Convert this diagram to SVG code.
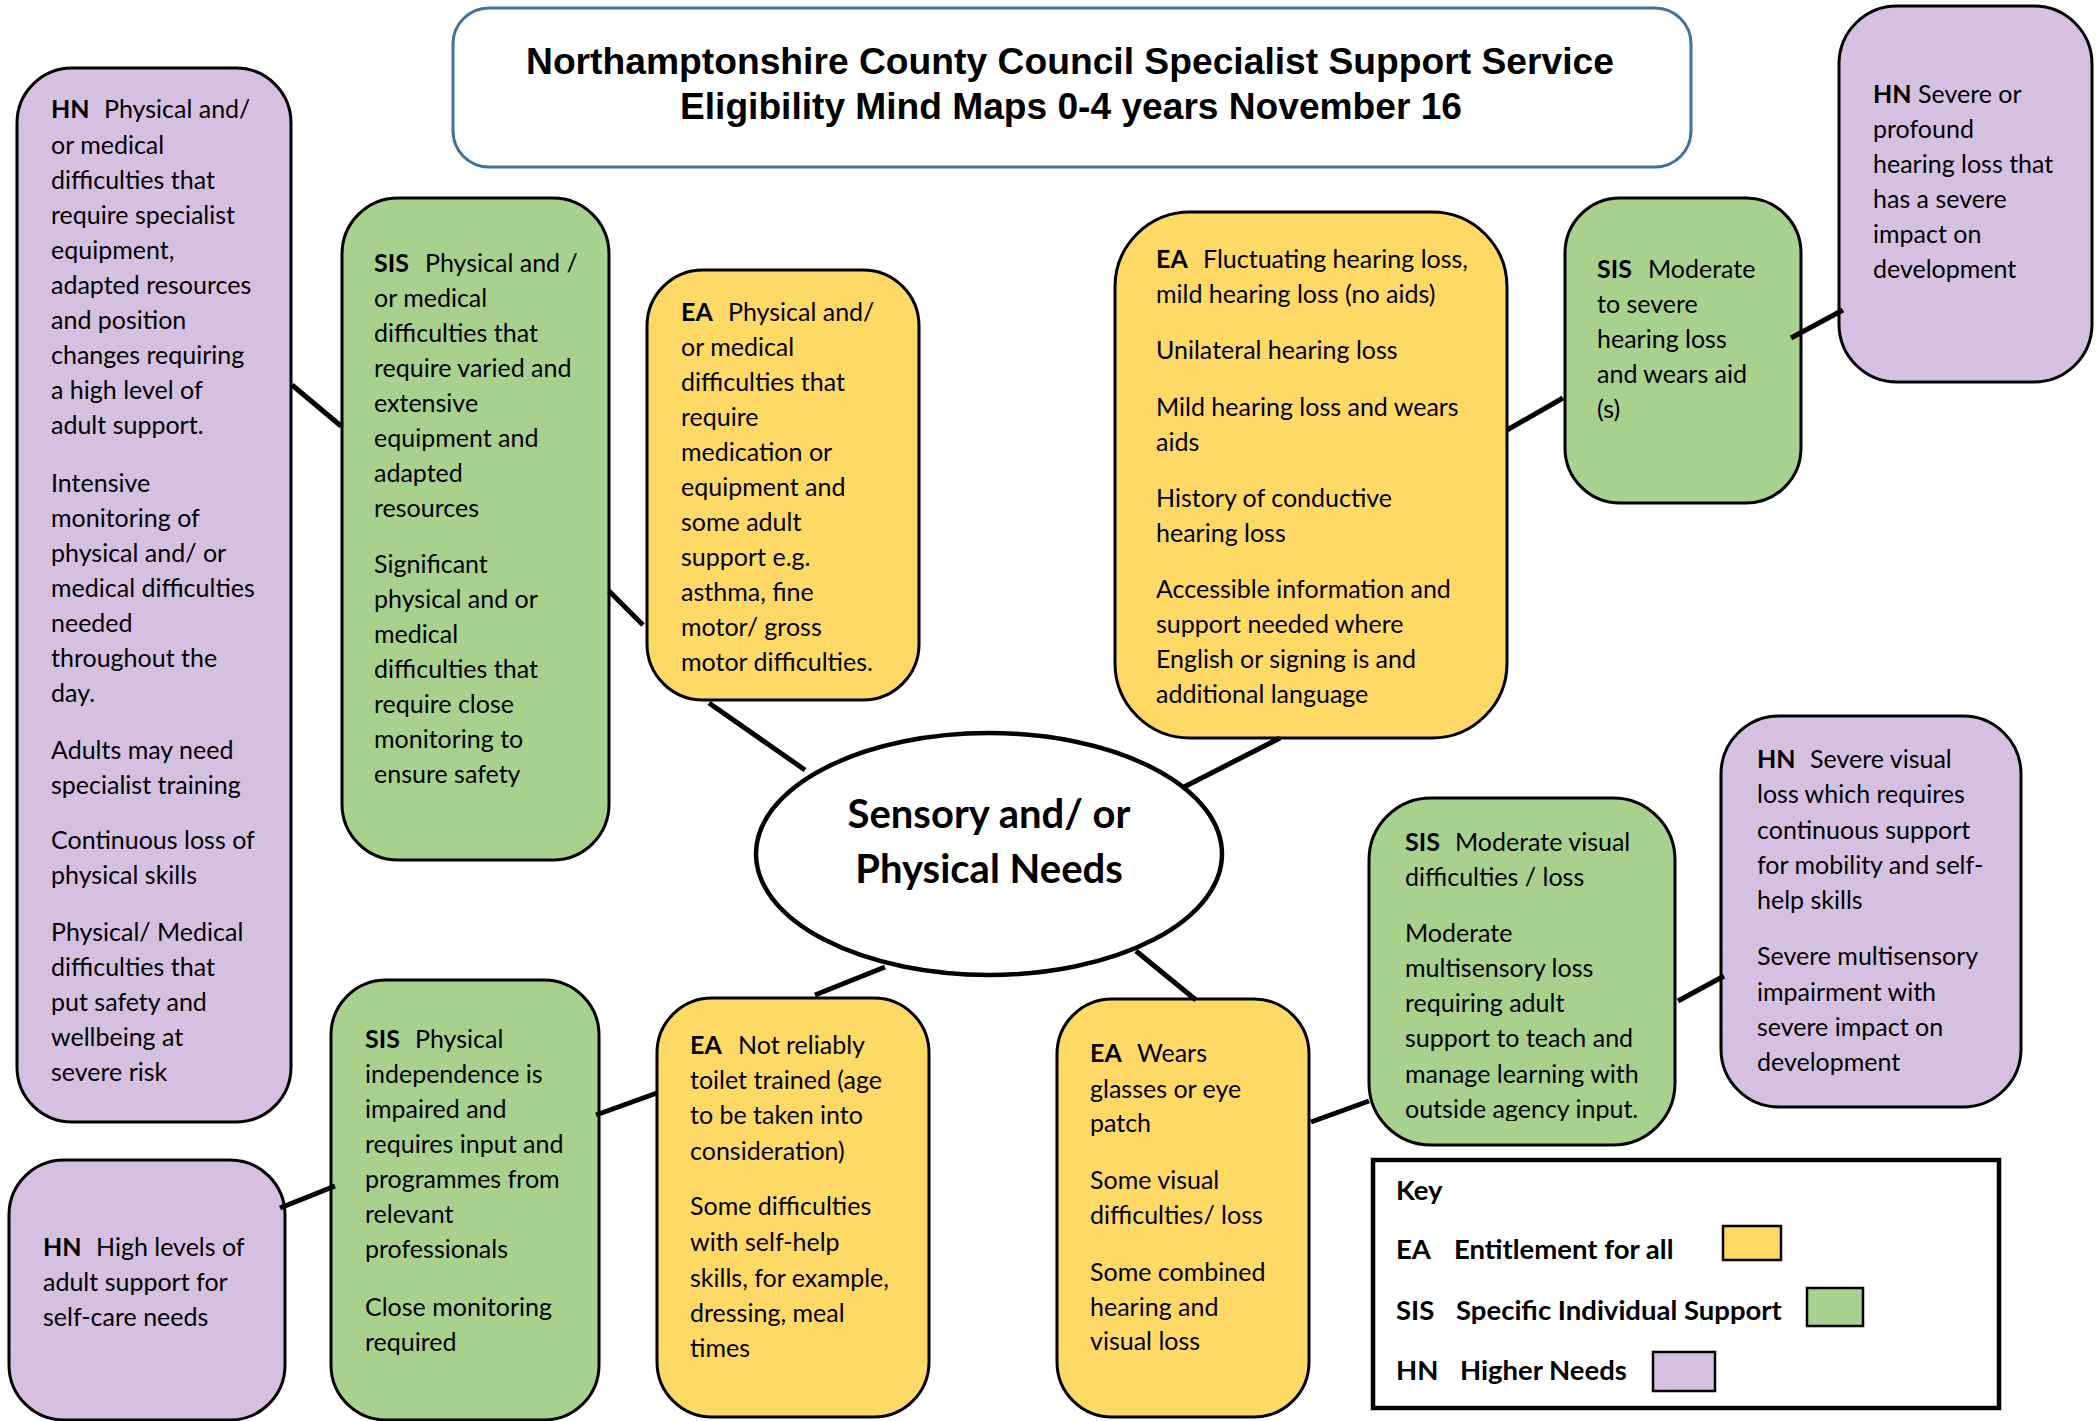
<svg xmlns="http://www.w3.org/2000/svg" width="2099" height="1421" viewBox="0 0 2099 1421">
<style>
.n{stroke:#000;stroke-width:3}
.ea{fill:#FED966}
.sis{fill:#A9D18E}
.hn{fill:#D5C0E1}
.t{font-family:Lato,'Liberation Sans',sans-serif;font-size:25px;fill:#000}
.b{font-weight:bold}
.k{font-size:27.5px}
.c{stroke:#000;stroke-width:5;fill:none}
.title{font-family:'Liberation Sans',Arial,sans-serif;font-weight:bold;font-size:37px;fill:#000}
</style>
<defs>
<clipPath id="clipSisVis"><rect x="1360" y="790" width="330" height="331"/></clipPath>
</defs>
<rect width="2099" height="1421" fill="#fff"/>

<g id="title">
<rect x="453" y="8" width="1238" height="159" rx="36" fill="#fff" stroke="#41719C" stroke-width="3"/>
<text class="title" x="1070" y="74" text-anchor="middle" textLength="1088" lengthAdjust="spacingAndGlyphs">Northamptonshire County Council Specialist Support Service</text>
<text class="title" x="1071" y="119" text-anchor="middle" textLength="782" lengthAdjust="spacingAndGlyphs">Eligibility Mind Maps 0-4 years November 16</text>
</g>

<g id="hn-physical">
<rect class="n hn" x="17" y="68" width="274" height="1054" rx="55"/>
<text class="t">
<tspan class="b" x="51" y="118">HN</tspan><tspan x="104" y="118">Physical and/</tspan>
<tspan x="51" y="154">or medical</tspan>
<tspan x="51" y="189">difficulties that</tspan>
<tspan x="51" y="224">require specialist</tspan>
<tspan x="51" y="259">equipment,</tspan>
<tspan x="51" y="294">adapted resources</tspan>
<tspan x="51" y="329">and position</tspan>
<tspan x="51" y="364">changes requiring</tspan>
<tspan x="51" y="399">a high level of</tspan>
<tspan x="51" y="434">adult support.</tspan>
<tspan x="51" y="492">Intensive</tspan>
<tspan x="51" y="527">monitoring of</tspan>
<tspan x="51" y="562">physical and/ or</tspan>
<tspan x="51" y="597">medical difficulties</tspan>
<tspan x="51" y="632">needed</tspan>
<tspan x="51" y="667">throughout the</tspan>
<tspan x="51" y="702">day.</tspan>
<tspan x="51" y="759">Adults may need</tspan>
<tspan x="51" y="794">specialist training</tspan>
<tspan x="51" y="849">Continuous loss of</tspan>
<tspan x="51" y="884">physical skills</tspan>
<tspan x="51" y="941">Physical/ Medical</tspan>
<tspan x="51" y="976">difficulties that</tspan>
<tspan x="51" y="1011">put safety and</tspan>
<tspan x="51" y="1046">wellbeing at</tspan>
<tspan x="51" y="1081">severe risk</tspan>
</text>
</g>

<g id="sis-physical">
<rect class="n sis" x="342" y="198" width="267" height="662" rx="56"/>
<text class="t">
<tspan class="b" x="374" y="272">SIS</tspan><tspan x="425" y="272">Physical and /</tspan>
<tspan x="374" y="307">or medical</tspan>
<tspan x="374" y="342">difficulties that</tspan>
<tspan x="374" y="377">require varied and</tspan>
<tspan x="374" y="412">extensive</tspan>
<tspan x="374" y="447">equipment and</tspan>
<tspan x="374" y="482">adapted</tspan>
<tspan x="374" y="517">resources</tspan>
<tspan x="374" y="573">Significant</tspan>
<tspan x="374" y="608">physical and or</tspan>
<tspan x="374" y="643">medical</tspan>
<tspan x="374" y="678">difficulties that</tspan>
<tspan x="374" y="713">require close</tspan>
<tspan x="374" y="748">monitoring to</tspan>
<tspan x="374" y="783">ensure safety</tspan>
</text>
</g>

<g id="ea-physical">
<rect class="n ea" x="647" y="270" width="272" height="430" rx="56"/>
<text class="t">
<tspan class="b" x="681" y="321">EA</tspan><tspan x="728" y="321">Physical and/</tspan>
<tspan x="681" y="356">or medical</tspan>
<tspan x="681" y="391">difficulties that</tspan>
<tspan x="681" y="426">require</tspan>
<tspan x="681" y="461">medication or</tspan>
<tspan x="681" y="496">equipment and</tspan>
<tspan x="681" y="531">some adult</tspan>
<tspan x="681" y="566">support e.g.</tspan>
<tspan x="681" y="601">asthma, fine</tspan>
<tspan x="681" y="636">motor/ gross</tspan>
<tspan x="681" y="671">motor difficulties.</tspan>
</text>
</g>

<g id="center">
<ellipse cx="989" cy="854" rx="233" ry="121" fill="#fff" stroke="#000" stroke-width="4.5"/>
<text class="t b" x="989" y="828" text-anchor="middle" style="font-size:40px">Sensory and/ or</text>
<text class="t b" x="989" y="883" text-anchor="middle" style="font-size:40px">Physical Needs</text>
</g>

<g id="ea-hearing">
<rect class="n ea" x="1115" y="212" width="392" height="526" rx="75"/>
<text class="t">
<tspan class="b" x="1156" y="268">EA</tspan><tspan x="1203" y="268">Fluctuating hearing loss,</tspan>
<tspan x="1156" y="303">mild hearing loss (no aids)</tspan>
<tspan x="1156" y="359">Unilateral hearing loss</tspan>
<tspan x="1156" y="416">Mild hearing loss and wears</tspan>
<tspan x="1156" y="451">aids</tspan>
<tspan x="1156" y="507">History of conductive</tspan>
<tspan x="1156" y="542">hearing loss</tspan>
<tspan x="1156" y="598">Accessible information and</tspan>
<tspan x="1156" y="633">support needed where</tspan>
<tspan x="1156" y="668">English or signing is and</tspan>
<tspan x="1156" y="703">additional language</tspan>
</text>
</g>

<g id="sis-hearing">
<rect class="n sis" x="1565" y="198" width="236" height="305" rx="55"/>
<text class="t">
<tspan class="b" x="1597" y="278">SIS</tspan><tspan x="1648" y="278">Moderate</tspan>
<tspan x="1597" y="313">to severe</tspan>
<tspan x="1597" y="348">hearing loss</tspan>
<tspan x="1597" y="383">and wears aid</tspan>
<tspan x="1597" y="418">(s)</tspan>
</text>
</g>

<g id="hn-hearing">
<rect class="n hn" x="1839" y="6" width="253" height="376" rx="58"/>
<text class="t">
<tspan class="b" x="1873" y="103">HN</tspan><tspan x="1918" y="103">Severe or</tspan>
<tspan x="1873" y="138">profound</tspan>
<tspan x="1873" y="173">hearing loss that</tspan>
<tspan x="1873" y="208">has a severe</tspan>
<tspan x="1873" y="243">impact on</tspan>
<tspan x="1873" y="278">development</tspan>
</text>
</g>

<g id="hn-selfcare">
<rect class="n hn" x="9" y="1160" width="276" height="260" rx="55"/>
<text class="t">
<tspan class="b" x="43" y="1256">HN</tspan><tspan x="96" y="1256">High levels of</tspan>
<tspan x="43" y="1291">adult support for</tspan>
<tspan x="43" y="1326">self-care needs</tspan>
</text>
</g>

<g id="sis-independence">
<rect class="n sis" x="331" y="980" width="268" height="440" rx="55"/>
<text class="t">
<tspan class="b" x="365" y="1048">SIS</tspan><tspan x="415" y="1048">Physical</tspan>
<tspan x="365" y="1083">independence is</tspan>
<tspan x="365" y="1118">impaired and</tspan>
<tspan x="365" y="1153">requires input and</tspan>
<tspan x="365" y="1188">programmes from</tspan>
<tspan x="365" y="1223">relevant</tspan>
<tspan x="365" y="1258">professionals</tspan>
<tspan x="365" y="1316">Close monitoring</tspan>
<tspan x="365" y="1351">required</tspan>
</text>
</g>

<g id="ea-toilet">
<rect class="n ea" x="657" y="998" width="272" height="419" rx="55"/>
<text class="t">
<tspan class="b" x="690" y="1054">EA</tspan><tspan x="738" y="1054">Not reliably</tspan>
<tspan x="690" y="1089">toilet trained (age</tspan>
<tspan x="690" y="1124">to be taken into</tspan>
<tspan x="690" y="1160">consideration)</tspan>
<tspan x="690" y="1215">Some difficulties</tspan>
<tspan x="690" y="1251">with self-help</tspan>
<tspan x="690" y="1287">skills, for example,</tspan>
<tspan x="690" y="1322">dressing, meal</tspan>
<tspan x="690" y="1357">times</tspan>
</text>
</g>

<g id="ea-visual">
<rect class="n ea" x="1057" y="999" width="252" height="418" rx="55"/>
<text class="t">
<tspan class="b" x="1090" y="1062">EA</tspan><tspan x="1137" y="1062">Wears</tspan>
<tspan x="1090" y="1098">glasses or eye</tspan>
<tspan x="1090" y="1132">patch</tspan>
<tspan x="1090" y="1189">Some visual</tspan>
<tspan x="1090" y="1224">difficulties/ loss</tspan>
<tspan x="1090" y="1281">Some combined</tspan>
<tspan x="1090" y="1316">hearing and</tspan>
<tspan x="1090" y="1350">visual loss</tspan>
</text>
</g>

<g id="sis-visual">
<rect class="n sis" x="1369" y="798" width="306" height="347" rx="62"/>
<text class="t" clip-path="url(#clipSisVis)">
<tspan class="b" x="1405" y="851">SIS</tspan><tspan x="1455" y="851">Moderate visual</tspan>
<tspan x="1405" y="886">difficulties / loss</tspan>
<tspan x="1405" y="942">Moderate</tspan>
<tspan x="1405" y="977">multisensory loss</tspan>
<tspan x="1405" y="1012">requiring adult</tspan>
<tspan x="1405" y="1047">support to teach and</tspan>
<tspan x="1405" y="1083">manage learning with</tspan>
<tspan x="1405" y="1118">outside agency input.</tspan>
</text>
</g>

<g id="hn-visual">
<rect class="n hn" x="1721" y="716" width="300" height="391" rx="58"/>
<text class="t">
<tspan class="b" x="1757" y="768">HN</tspan><tspan x="1810" y="768">Severe visual</tspan>
<tspan x="1757" y="803">loss which requires</tspan>
<tspan x="1757" y="839">continuous support</tspan>
<tspan x="1757" y="874">for mobility and self-</tspan>
<tspan x="1757" y="909">help skills</tspan>
<tspan x="1757" y="965">Severe multisensory</tspan>
<tspan x="1757" y="1001">impairment with</tspan>
<tspan x="1757" y="1036">severe impact on</tspan>
<tspan x="1757" y="1071">development</tspan>
</text>
</g>

<g id="key">
<rect x="1373" y="1160" width="626" height="248" fill="#fff" stroke="#000" stroke-width="4.5"/>
<text class="t b k">
<tspan x="1396" y="1200">Key</tspan>
<tspan x="1396" y="1259">EA</tspan><tspan x="1454" y="1259">Entitlement for all</tspan>
<tspan x="1396" y="1320">SIS</tspan><tspan x="1456" y="1320">Specific Individual Support</tspan>
<tspan x="1396" y="1380">HN</tspan><tspan x="1460" y="1380">Higher Needs</tspan>
</text>
<rect class="ea" x="1723" y="1226" width="58" height="34" stroke="#000" stroke-width="2.5"/>
<rect class="sis" x="1807" y="1288" width="56" height="38" stroke="#000" stroke-width="2.5"/>
<rect class="hn" x="1653" y="1352" width="62" height="39" stroke="#000" stroke-width="2.5"/>
</g>

<g id="connectors">
<line class="c" x1="292" y1="385" x2="341" y2="426"/>
<line class="c" x1="609" y1="591" x2="643" y2="625"/>
<line class="c" x1="709" y1="703" x2="805" y2="770"/>
<line class="c" x1="1182" y1="788" x2="1280" y2="738"/>
<line class="c" x1="1507" y1="430" x2="1563" y2="398"/>
<line class="c" x1="1791" y1="338" x2="1843" y2="310"/>
<line class="c" x1="280" y1="1208" x2="335" y2="1186"/>
<line class="c" x1="596" y1="1115" x2="657" y2="1093"/>
<line class="c" x1="885" y1="967" x2="815" y2="995"/>
<line class="c" x1="1136" y1="951" x2="1196" y2="1000"/>
<line class="c" x1="1311" y1="1122" x2="1369" y2="1101"/>
<line class="c" x1="1678" y1="1001" x2="1724" y2="976"/>
</g>
</svg>
